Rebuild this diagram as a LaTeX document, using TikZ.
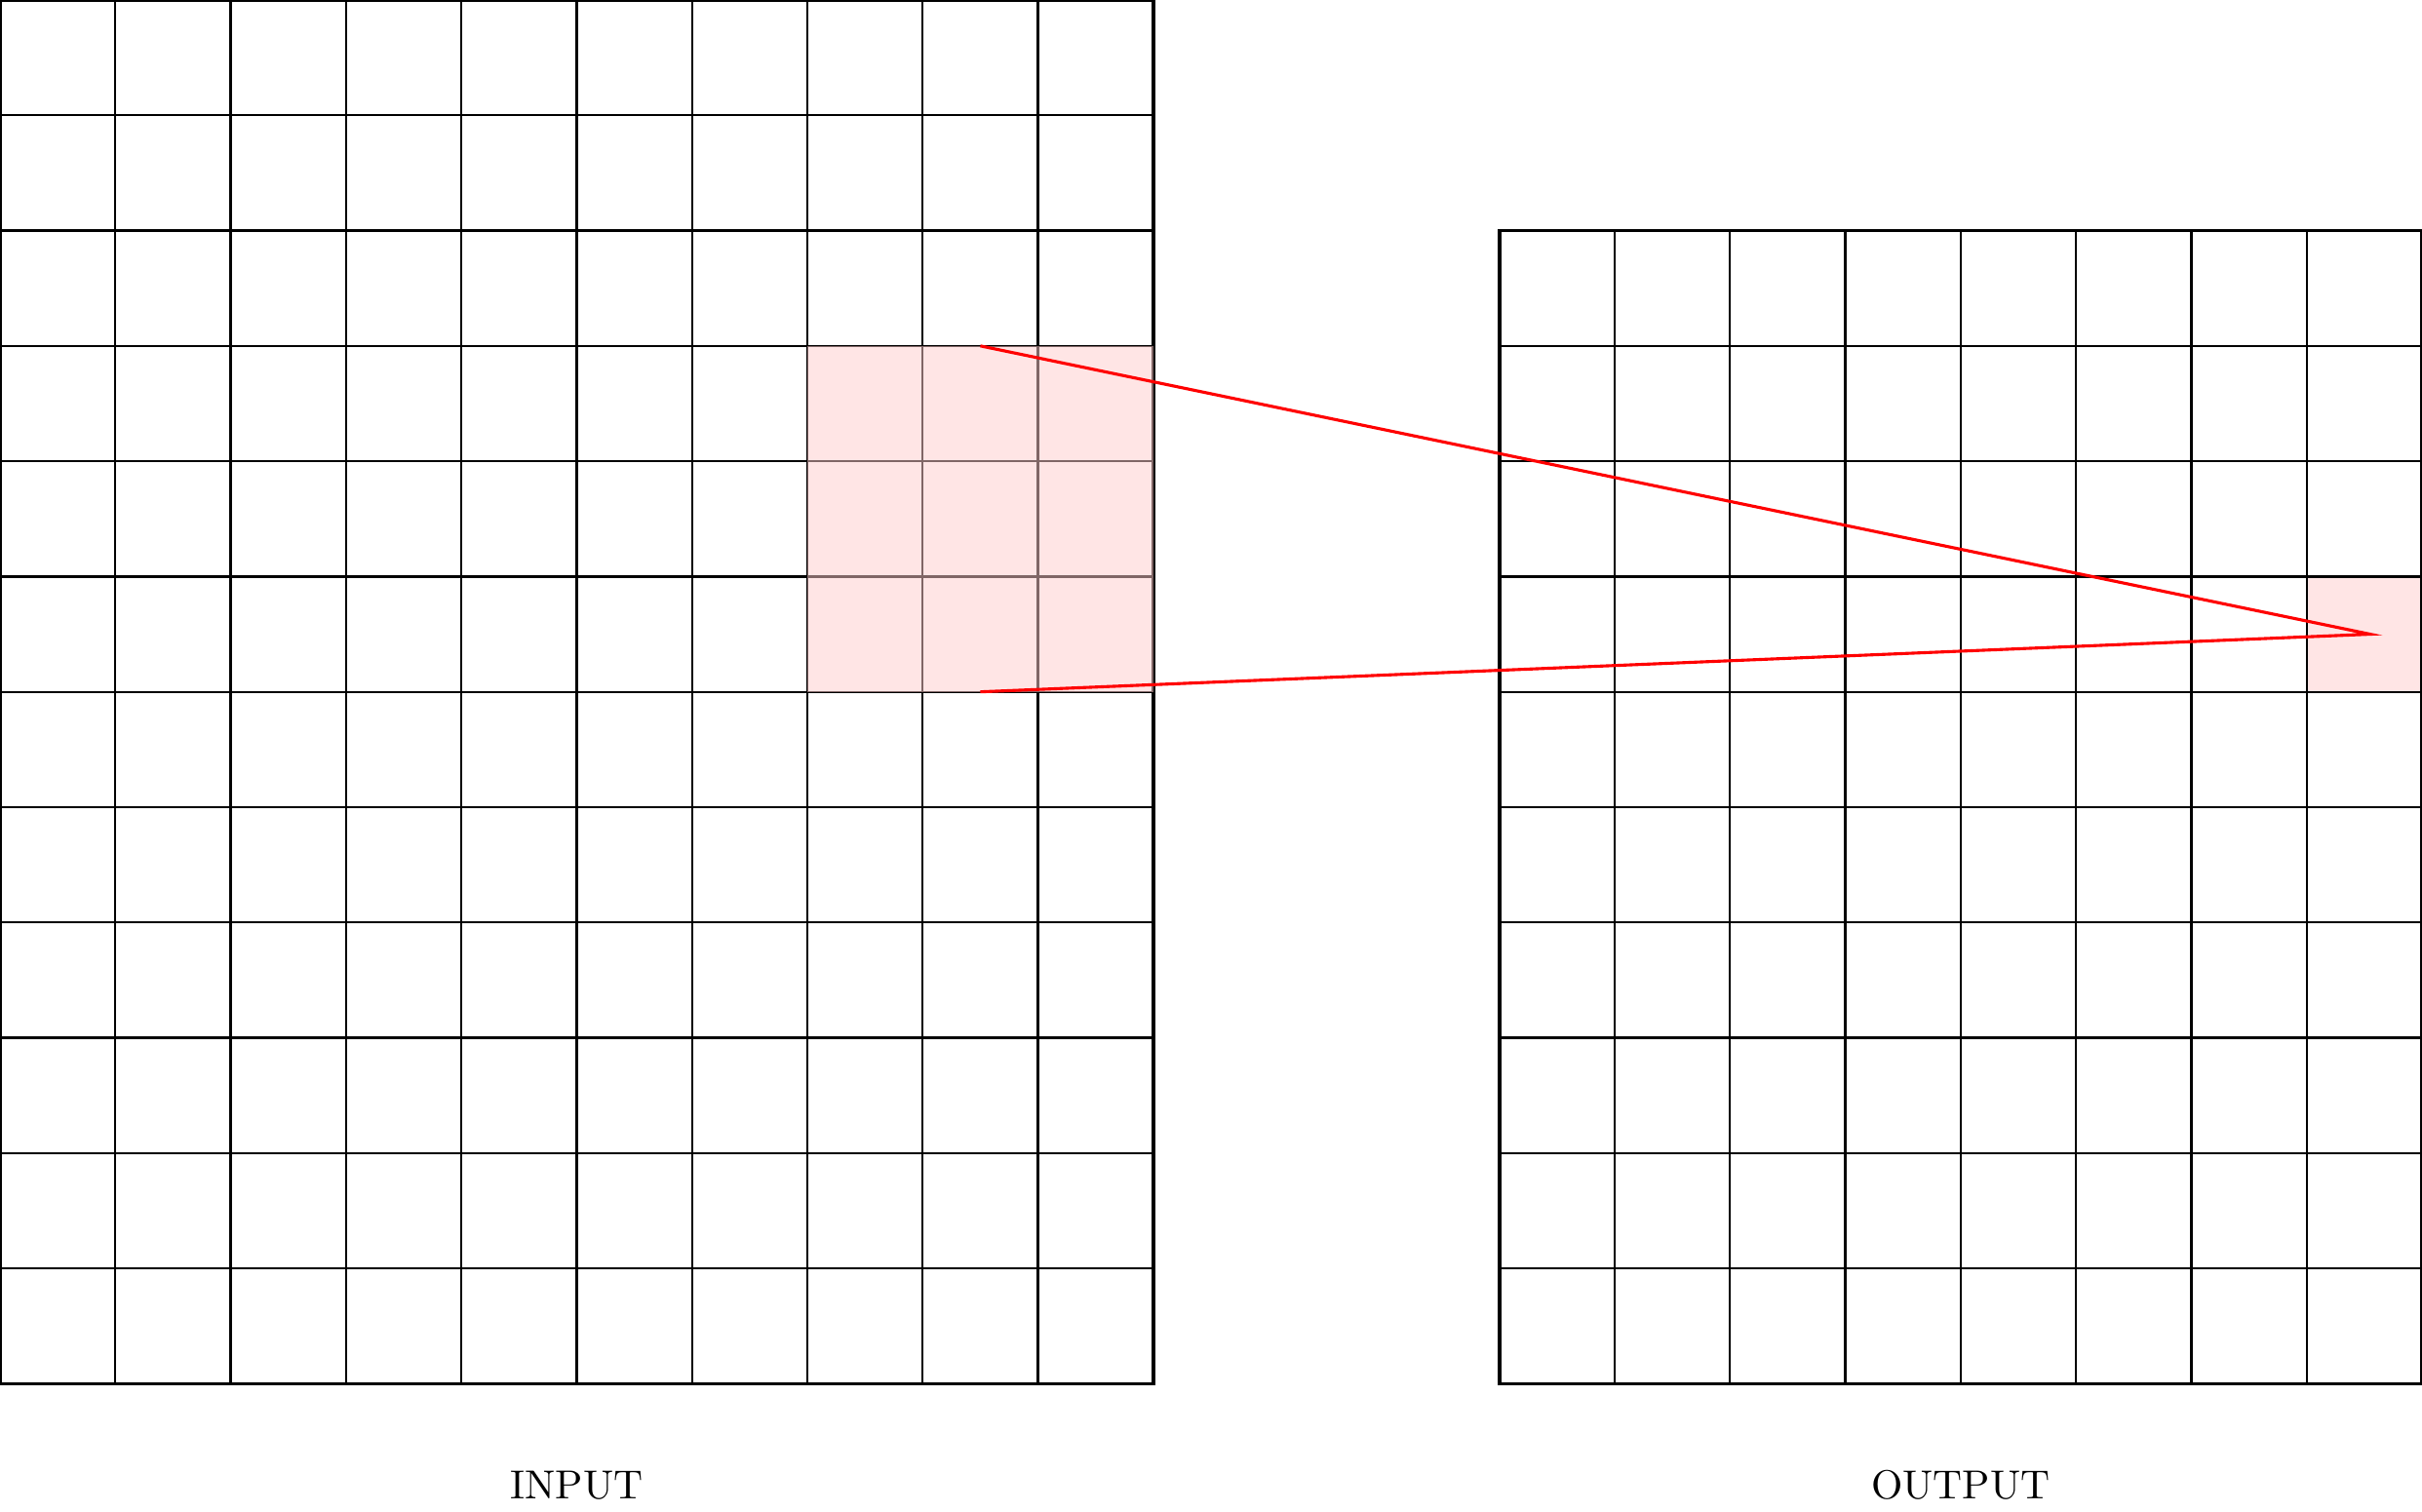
\documentclass[tikz,border=0pt]{standalone}
\begin{document}
\begin{tikzpicture}[
  gridline/.style={line width=0.55pt, black},
  gridframe/.style={line width=0.9pt, black},
  hilite/.style={fill=red!20, opacity=0.5},
  hilitesolid/.style={fill=red!10},
  ray/.style={red, line width=0.75pt},
  lbl/.style={font=\normalsize, anchor=base}
]
\useasboundingbox (0,-1.11) rectangle (21,12);
% input grid 10 x 12
\draw[gridline] (0,0) grid (10,12);
\draw[gridframe] (0,0) rectangle (10,12);
\fill[hilite] (7,6) rectangle (10,9);
% output grid 8 x 10
\fill[hilitesolid] (20,6) rectangle (21,7);
\draw[gridline] (13,0) grid (21,10);
\draw[gridframe] (13,0) rectangle (21,10);
% connector
\coordinate (inTop) at (8.5,9);
\coordinate (inBot) at (8.5,6);
\coordinate (apex) at (20.55,6.5);
\draw[ray] (inTop) -- (apex) -- (inBot);
% labels
\node[lbl] (inlabel) at (5,-1.0) {INPUT};
\node[lbl] (outlabel) at (17,-1.0) {OUTPUT};
\end{tikzpicture}
\end{document}
